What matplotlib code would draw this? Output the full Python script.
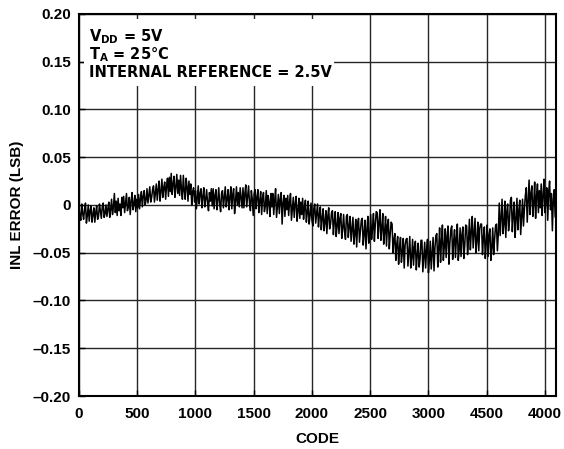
import numpy as np
import matplotlib
matplotlib.use("Agg")
import matplotlib.pyplot as plt
from matplotlib.patches import Rectangle

plt.rcParams['font.family'] = ['Liberation Sans', 'DejaVu Sans']
plt.rcParams['font.weight'] = 'bold'
plt.rcParams['mathtext.fontset'] = 'dejavusans'

# INL error, every 8 codes (0 .. 4088), then code 4095
inl = [
    -0.002, -0.012, -0.016, 0.001, -0.009, -0.015, -0.004, 0.002, -0.019, -0.011, 0.000, -0.017, -0.006, -0.001, -0.018, -0.010,
    -0.003, -0.018, -0.008, -0.001, -0.015, -0.012, 0.001, -0.006, -0.014, -0.002, 0.002, -0.013, -0.009, 0.000, -0.012, -0.004,
    0.003, -0.013, -0.005, 0.006, -0.010, -0.002, 0.012, -0.008, 0.004, -0.011, 0.007, -0.006, 0.001, -0.011, 0.008, -0.003,
    0.009, -0.008, 0.002, 0.012, -0.006, -0.002, 0.008, -0.010, 0.004, 0.013, -0.005, 0.001, 0.010, -0.007, 0.006, -0.003,
    0.011, -0.004, 0.006, 0.014, -0.002, 0.009, 0.015, 0.000, 0.005, 0.017, 0.002, 0.011, 0.019, 0.003, 0.008, 0.016,
    0.020, 0.003, 0.012, 0.022, 0.005, 0.016, 0.025, 0.004, 0.014, 0.027, 0.008, 0.018, 0.024, 0.006, 0.020, 0.028,
    0.009, 0.029, 0.014, 0.033, 0.011, 0.022, 0.030, 0.008, 0.019, 0.032, 0.012, 0.026, 0.010, 0.031, 0.017, 0.006,
    0.031, 0.015, 0.006, 0.028, 0.019, 0.004, 0.025, 0.011, 0.022, 0.000, 0.014, 0.018, 0.003, 0.015, -0.004, 0.008,
    0.020, 0.001, 0.012, 0.017, -0.003, 0.009, 0.018, -0.002, 0.006, 0.016, 0.002, -0.006, 0.013, 0.004, 0.017, -0.001,
    0.017, -0.004, 0.010, 0.016, -0.005, 0.005, 0.018, 0.001, -0.007, 0.012, 0.015, -0.003, 0.008, 0.019, -0.002, 0.006,
    0.016, -0.005, 0.008, 0.019, -0.004, 0.011, 0.017, -0.009, 0.004, 0.019, 0.000, 0.013, -0.002, 0.018, 0.007, -0.003,
    0.018, -0.003, 0.012, 0.021, -0.002, 0.009, 0.020, 0.002, -0.006, 0.015, 0.006, -0.011, 0.012, 0.016, -0.004, 0.008,
    0.016, -0.008, 0.004, 0.014, -0.010, 0.007, 0.013, -0.007, -0.001, 0.015, -0.009, 0.010, 0.003, -0.012, 0.012, -0.002,
    0.012, -0.010, 0.005, 0.017, -0.013, -0.001, 0.011, -0.009, 0.006, 0.013, -0.020, 0.002, 0.010, -0.012, 0.007, -0.005,
    0.010, -0.011, 0.003, 0.012, -0.016, -0.004, 0.008, -0.013, 0.001, 0.009, -0.017, -0.006, 0.007, -0.014, 0.003, -0.010,
    0.007, -0.015, -0.003, 0.005, -0.018, -0.008, 0.004, -0.020, -0.011, 0.002, -0.016, -0.022, -0.004, 0.001, -0.019, -0.009,
    0.001, -0.023, -0.010, -0.002, -0.026, -0.014, -0.004, -0.027, -0.018, -0.006, -0.030, -0.012, -0.003, -0.025, -0.020, -0.008,
    -0.006, -0.031, -0.017, -0.007, -0.033, -0.022, -0.008, -0.030, -0.014, -0.009, -0.035, -0.024, -0.010, -0.028, -0.036, -0.012,
    -0.010, -0.034, -0.022, -0.012, -0.038, -0.025, -0.013, -0.041, -0.030, -0.015, -0.044, -0.020, -0.014, -0.039, -0.028, -0.016,
    -0.014, -0.042, -0.030, -0.016, -0.046, -0.026, -0.012, -0.040, -0.033, -0.010, -0.036, -0.024, -0.009, -0.038, -0.020, -0.007,
    -0.008, -0.035, -0.018, -0.005, -0.037, -0.024, -0.009, -0.041, -0.028, -0.012, -0.043, -0.021, -0.015, -0.046, -0.030, -0.018,
    -0.020, -0.050, -0.036, -0.030, -0.058, -0.041, -0.033, -0.062, -0.045, -0.034, -0.060, -0.050, -0.035, -0.066, -0.042, -0.036,
    -0.035, -0.064, -0.049, -0.033, -0.066, -0.055, -0.036, -0.063, -0.044, -0.038, -0.068, -0.052, -0.040, -0.065, -0.057, -0.037,
    -0.037, -0.070, -0.054, -0.039, -0.066, -0.047, -0.036, -0.071, -0.058, -0.038, -0.067, -0.050, -0.034, -0.069, -0.045, -0.032,
    -0.030, -0.065, -0.046, -0.024, -0.060, -0.038, -0.021, -0.058, -0.044, -0.025, -0.055, -0.033, -0.022, -0.062, -0.040, -0.026,
    -0.022, -0.057, -0.039, -0.026, -0.055, -0.035, -0.020, -0.058, -0.047, -0.024, -0.054, -0.031, -0.023, -0.056, -0.042, -0.021,
    -0.022, -0.052, -0.036, -0.015, -0.047, -0.028, -0.012, -0.045, -0.030, -0.014, -0.050, -0.037, -0.018, -0.048, -0.025, -0.020,
    -0.020, -0.052, -0.034, -0.023, -0.056, -0.040, -0.021, -0.054, -0.031, -0.025, -0.058, -0.045, -0.024, -0.052, -0.036, -0.022,
    -0.020, -0.048, -0.030, 0.002, -0.032, -0.012, 0.006, -0.030, -0.020, 0.004, -0.034, -0.008, 0.001, -0.027, -0.016, 0.005,
    0.008, -0.028, -0.010, 0.003, -0.034, -0.015, 0.007, -0.026, -0.006, 0.005, -0.031, -0.012, 0.006, -0.022, -0.004, 0.010,
    0.018, -0.018, 0.004, 0.026, -0.010, 0.012, 0.020, -0.012, 0.002, 0.024, -0.014, 0.009, 0.022, -0.008, 0.015, -0.003,
    0.022, -0.011, 0.010, 0.027, -0.008, 0.004, 0.018, -0.016, 0.013, 0.025, -0.005, 0.012, -0.027, 0.006, 0.016, -0.012,
    -0.015,
]
codes = list(range(0, 4096, 8)) + [4095]

x_ticks = [0, 500, 1000, 1500, 2000, 2500, 3000, 3500, 4000]
x_labels = ['0', '500', '1000', '1500', '2000', '2500', '3000', '4500', '4000']
y_ticks = [-0.20, -0.15, -0.10, -0.05, 0, 0.05, 0.10, 0.15, 0.20]
y_labels = ['\u20130.20', '\u20130.15', '\u20130.10', '\u20130.05', '0',
            '0.05', '0.10', '0.15', '0.20']

fig = plt.figure(figsize=(5.64, 4.49), dpi=100)
ax = fig.add_axes([0.140, 0.118, 0.846, 0.851])

ax.plot(codes, inl, color='black', linewidth=1.1, zorder=3)

ax.set_xlim(0, 4096)
ax.set_ylim(-0.20, 0.20)
ax.set_xticks(x_ticks)
ax.set_xticklabels(x_labels)
ax.set_yticks(y_ticks)
ax.set_yticklabels(y_labels)
ax.tick_params(direction='in', length=4, width=1, labelsize=11, pad=6)
ax.tick_params(axis='x', pad=8)
ax.grid(True, color='0.15', linewidth=1.0)
for s in ax.spines.values():
    s.set_linewidth(1.5)

# white box behind the conditions text (hides the grid)
ax.add_patch(Rectangle((0.0105, 0.8115), 0.5245, 0.1755, transform=ax.transAxes,
                       facecolor='white', edgecolor='none', zorder=2))
box_font = dict(family='DejaVu Sans', fontsize=10.5, fontweight='bold',
                va='baseline', zorder=4, transform=ax.transAxes)
ax.text(0.02, 0.9275, 'V$_{\\mathbf{DD}}$ = 5V', **box_font)
ax.text(0.02, 0.8814, 'T$_{\\mathbf{A}}$ = 25\u00b0C', **box_font)
ax.text(0.02, 0.8359, 'INTERNAL REFERENCE = 2.5V', **box_font)

ax.set_xlabel('CODE', fontsize=11, fontweight='bold', labelpad=8)
ax.set_ylabel('INL ERROR (LSB)', fontsize=11, fontweight='bold', labelpad=6)

plt.savefig('out.png', dpi=100)
